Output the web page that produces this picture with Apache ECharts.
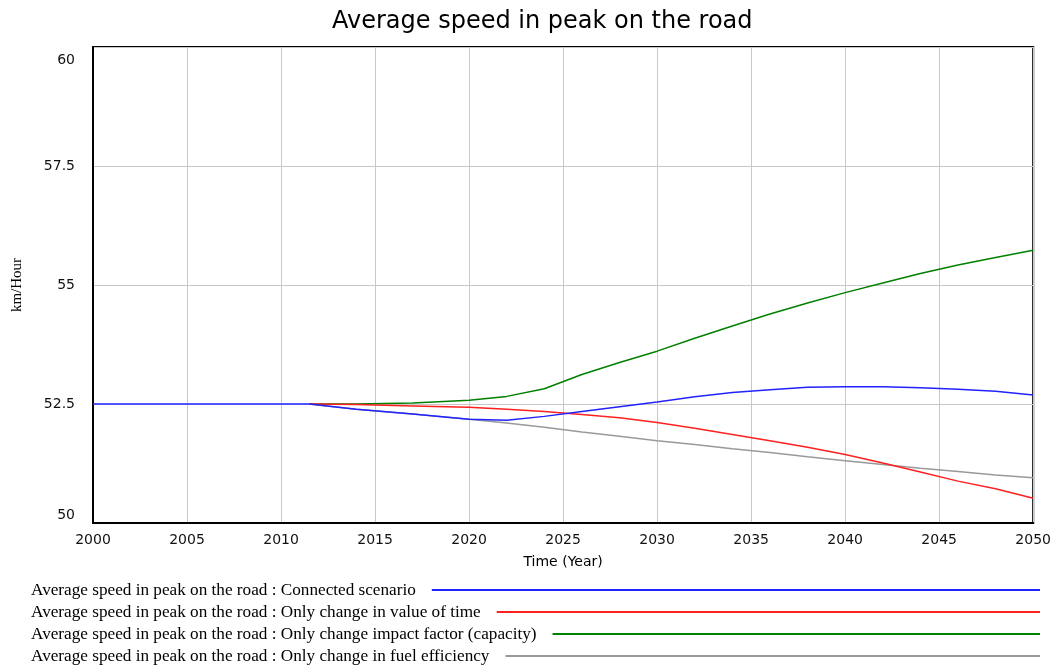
<!DOCTYPE html>
<html>
<head>
<meta charset="utf-8">
<script src="https://cdn.jsdelivr.net/npm/echarts@6/dist/echarts.min.js"></script>
<style>html,body{margin:0;padding:0;background:#fff}#c{width:1054px;height:666px}</style>
</head>
<body>
<div id="c"></div>
<script>
const title = 'Average speed in peak on the road';
const years = [2000, 2011.5, 2014, 2017, 2020, 2022, 2024, 2026, 2028, 2030, 2032, 2034, 2036, 2038, 2040, 2042, 2044, 2046, 2048, 2050];
const connected = [52.5, 52.5, 52.39, 52.29, 52.18, 52.16, 52.24, 52.34, 52.44, 52.54, 52.65, 52.74, 52.80, 52.85, 52.86, 52.86, 52.84, 52.81, 52.77, 52.69];
const valueOfTime = [null, 52.5, 52.49, 52.46, 52.43, 52.39, 52.34, 52.28, 52.21, 52.11, 51.99, 51.86, 51.73, 51.59, 51.44, 51.26, 51.07, 50.88, 50.72, 50.52];
const capacity = [null, 52.5, 52.5, 52.52, 52.58, 52.66, 52.82, 53.12, 53.37, 53.61, 53.88, 54.14, 54.39, 54.62, 54.84, 55.04, 55.24, 55.42, 55.58, 55.73];
const fuelEff = [null, 52.5, 52.39, 52.29, 52.18, 52.10, 52.01, 51.91, 51.82, 51.73, 51.65, 51.56, 51.48, 51.39, 51.31, 51.23, 51.15, 51.08, 51.01, 50.95];
const seriesNames = [
  'Average speed in peak on the road : Connected scenario',
  'Average speed in peak on the road : Only change in value of time',
  'Average speed in peak on the road : Only change impact factor (capacity)',
  'Average speed in peak on the road : Only change in fuel efficiency'
];
const seriesValues = [connected, valueOfTime, capacity, fuelEff];
const colors = ['#2222ff', '#ff2020', '#008000', '#999999'];

const legendFontSize = 17.2;
const cv = document.createElement('canvas').getContext('2d');
cv.font = legendFontSize + 'px "Liberation Serif"';
const legendLeft = 31, lineEnd = 1040, gapExtra = 11;
const rowTops = [581, 603, 625, 647];

const legends = seriesNames.map((n, i) => {
  const w = cv.measureText(n).width;
  const iconStart = legendLeft + w + 5 + gapExtra;
  return {
    data: [n], left: legendLeft, top: rowTops[i], align: 'right', orient: 'horizontal',
    icon: 'rect', itemHeight: 2, itemWidth: Math.max(10, lineEnd - iconStart),
    padding: 0,
    textStyle: {fontFamily: 'Liberation Serif', fontSize: legendFontSize, color: '#000', lineHeight: 18, padding: [0, gapExtra, 0, 0]}
  };
});

const chart = echarts.init(document.getElementById('c'), null, {renderer: 'canvas'});
chart.setOption({
  animation: false,
  backgroundColor: '#fff',
  title: {text: title, left: 327, top: 5, textStyle: {fontFamily: 'DejaVu Sans', fontSize: 24, fontWeight: 'normal', color: '#000'}},
  legend: legends,
  grid: {left: 93, right: 20, top: 47, bottom: 143, show: true, borderColor: '#000', borderWidth: 2, backgroundColor: 'transparent'},
  xAxis: {
    type: 'value', min: 2000, max: 2050, interval: 5,
    name: 'Time (Year)', nameLocation: 'middle', nameGap: 32,
    nameTextStyle: {fontFamily: 'DejaVu Sans', fontSize: 14, color: '#000'},
    axisLine: {show: true, lineStyle: {color: '#000', width: 2}},
    axisTick: {show: false},
    axisLabel: {fontFamily: 'DejaVu Sans', fontSize: 14, color: '#111', margin: 10, formatter: v => String(v)},
    splitLine: {show: true, lineStyle: {color: '#c8c8c8', width: 1}}
  },
  yAxis: {
    type: 'value', min: 50, max: 60, interval: 2.5,
    name: 'km/Hour', nameLocation: 'middle', nameGap: 68,
    nameTextStyle: {fontFamily: 'Liberation Serif', fontSize: 15, color: '#000'},
    axisLine: {show: true, lineStyle: {color: '#000', width: 2}},
    axisTick: {show: false},
    axisLabel: {
      fontFamily: 'DejaVu Sans', fontSize: 14, color: '#111', margin: 18,
      formatter: v => v === 60 ? '{t|60}' : (v === 50 ? '{b|50}' : String(v)),
      rich: {
        t: {fontFamily: 'DejaVu Sans', fontSize: 14, color: '#111', padding: [26, 0, 0, 0]},
        b: {fontFamily: 'DejaVu Sans', fontSize: 14, color: '#111', padding: [0, 0, 16, 0]}
      }
    },
    splitLine: {show: true, lineStyle: {color: '#c8c8c8', width: 1}}
  },
  series: seriesNames.map((n, i) => ({
    name: n, type: 'line', showSymbol: false, symbol: 'none',
    color: colors[i],
    lineStyle: {color: colors[i], width: 1.5},
    data: years.map((y, j) => [y, seriesValues[i][j]]).filter(p => p[1] !== null),
    z: 4 - i
  }))
});
</script>
</body>
</html>
